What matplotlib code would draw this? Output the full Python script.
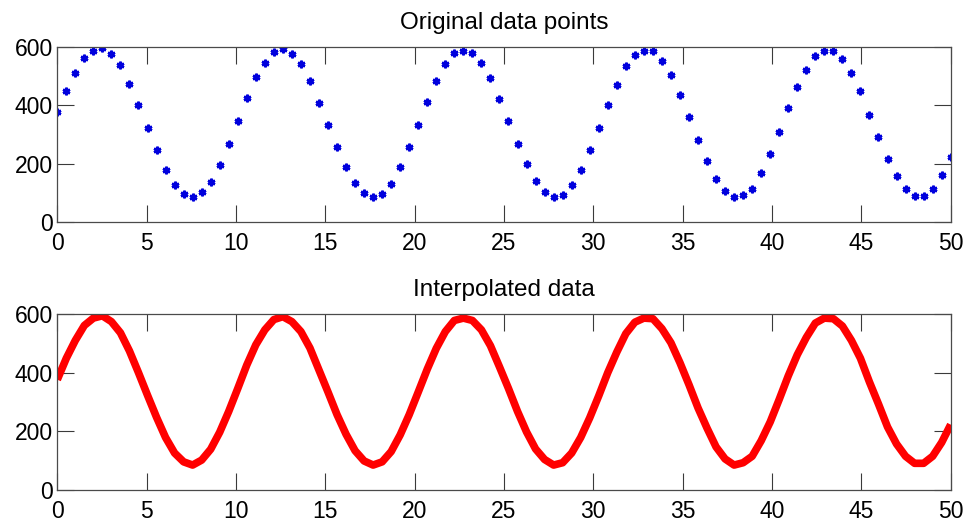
import numpy as np
import matplotlib
matplotlib.use('Agg')
import matplotlib.pyplot as plt

# sample positions (100 evenly spaced samples over 0..50)
x = np.linspace(0, 50, 100)

# values
y = [376, 449, 510, 561, 586, 594, 574, 536, 474, 400,
     323, 248, 179, 126, 96, 85, 102, 139, 197, 268,
     346, 426, 495, 546, 581, 591, 574, 540, 484, 409,
     334, 257, 190, 134, 99, 85, 96, 131, 188, 257,
     334, 412, 483, 540, 578, 586, 578, 546, 492, 420,
     346, 268, 198, 140, 104, 85, 93, 126, 179, 246,
     321, 400, 470, 533, 572, 586, 584, 550, 502, 434,
     359, 280, 211, 147, 106, 85, 93, 115, 168, 232,
     309, 389, 461, 520, 569, 586, 584, 559, 510, 449,
     368, 293, 215, 157, 115, 91, 91, 115, 162, 223]

x_ticks = list(range(0, 51, 5))
y_ticks = [0, 200, 400, 600]
titles = ['Original data points', 'Interpolated data']

plt.rcParams['font.family'] = ['Liberation Sans', 'DejaVu Sans']

fig = plt.figure(figsize=(9.69, 5.21), dpi=100)
ax1 = fig.add_axes([0.0591, 0.5733, 0.9220, 0.3370])
ax2 = fig.add_axes([0.0591, 0.0595, 0.9220, 0.3378])

# top: the raw samples
ax1.plot(x, y, linestyle='none', marker=(6, 2, 0), markersize=5.5,
         markeredgewidth=1.8, color='#0000dd')
# bottom: the same curve drawn as a thick line
ax2.plot(x, y, '-', color='#ff0000', linewidth=5.5,
         solid_joinstyle='round', solid_capstyle='butt')

for ax, title in zip([ax1, ax2], titles):
    ax.set_xlim(0, 50)
    ax.set_ylim(0, 600)
    ax.set_xticks(x_ticks)
    ax.set_yticks(y_ticks)
    ax.set_title(title, fontsize=17.5, pad=13)
    ax.tick_params(direction='in', length=12.5, width=0.8, color='#3a3a3a',
                   top=True, right=True, labelsize=16.5)
    ax.tick_params(axis='x', pad=7)
    ax.tick_params(axis='y', pad=3)
    for s in ax.spines.values():
        s.set_color('#4a4a4a')
        s.set_linewidth(0.9)

plt.savefig('out.png', dpi=100)
plt.close()
